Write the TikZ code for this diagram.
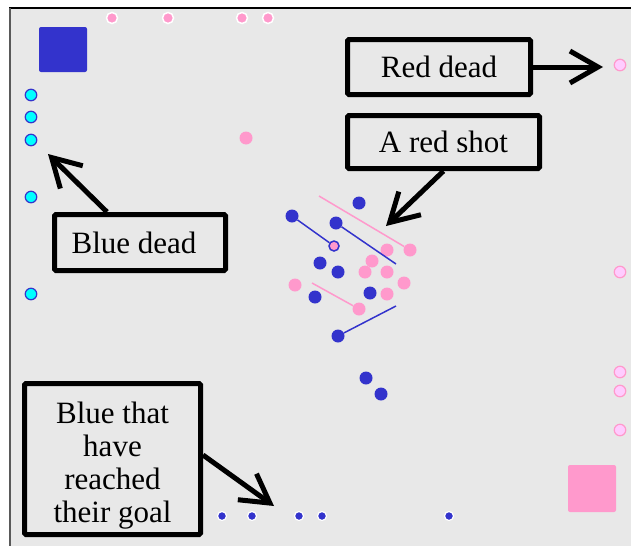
\documentclass[tikz,border=0pt]{standalone}
\usepackage{fontspec}
\setmainfont{Liberation Serif}
\usetikzlibrary{arrows.meta}
\definecolor{antblue}{HTML}{3333CC}
\definecolor{antpink}{HTML}{FF99CC}
\definecolor{deadblue}{HTML}{00FFFF}
\definecolor{deadpink}{HTML}{FFCCFF}
\definecolor{field}{HTML}{E8E8E8}

\begin{document}
\begin{tikzpicture}[x=1pt,y=-1pt,
  ant/.style={circle,inner sep=0pt,minimum size=13pt},
  blueant/.style={ant,fill=antblue},
  redant/.style={ant,fill=antpink},
  bluedead/.style={ant,minimum size=11.5pt,fill=deadblue,draw=antblue,line width=1.2pt},
  reddead/.style={ant,minimum size=11.5pt,fill=deadpink,draw=antpink,line width=1.2pt},
  bluehome/.style={ant,minimum size=9pt,fill=antblue,draw=white,line width=1.2pt},
  redhome/.style={ant,minimum size=11pt,fill=antpink,draw=white,line width=1.5pt},
  hitant/.style={ant,minimum size=10pt,fill=antpink,draw=antblue,line width=1.5pt},
  callout/.style={draw=black,line width=5pt,rounded corners=1.5pt,align=center,
    inner sep=0pt,font=\fontsize{31}{33}\selectfont},
  pointer/.style={line width=5pt,-{Straight Barb[length=28pt,width=32pt]}},
  blueshot/.style={antblue,line width=1.5pt},
  redshot/.style={antpink,line width=1.5pt}]
  \useasboundingbox (0,0) rectangle (631,546);

  % playing field
  \fill[field] (10,8) rectangle (631,546);
  \draw[black,line width=2pt] (9,8) -- (631,8);
  \draw[black!65,line width=1.2pt] (10,8) -- (10,546);

  % nests
  \fill[antblue,rounded corners=2pt] (39,27) rectangle (87,72);
  \fill[antpink,rounded corners=2pt] (568,465) rectangle (616,512);

  % ants at home and dead ants
  \foreach \x [count=\i] in {112,168,242,268}
    \node[redhome] (rh\i) at (\x,18) {};
  \foreach \x [count=\i] in {222,252,299,322,449}
    \node[bluehome] (bh\i) at (\x,516) {};
  \foreach \y [count=\i] in {95,117,140,197,294}
    \node[bluedead] (bd\i) at (31,\y) {};
  \foreach \y [count=\i] in {65,272,372,391,430}
    \node[reddead] (rd\i) at (620,\y) {};
  \node[redant] (r0) at (246,138) {};

  % the fight
  \node[blueant] (b1) at (292,216) {};
  \node[blueant] (b2) at (359,203) {};
  \node[blueant] (b3) at (336,223) {};
  \node[blueant] (b4) at (320,263) {};
  \node[blueant] (b5) at (338,272) {};
  \node[blueant] (b6) at (315,297) {};
  \node[blueant] (b7) at (370,293) {};
  \node[blueant] (b8) at (338,336) {};
  \node[blueant] (b9) at (366,378) {};
  \node[blueant] (b10) at (381,394) {};
  \node[hitant] (hit) at (334,246) {};
  \node[redant] (r1) at (410,250) {};
  \node[redant] (r2) at (387,250) {};
  \node[redant] (r3) at (372,261) {};
  \node[redant] (r4) at (365,272) {};
  \node[redant] (r5) at (387,272) {};
  \node[redant] (r6) at (404,283) {};
  \node[redant] (r7) at (295,285) {};
  \node[redant] (r8) at (387,294) {};
  \node[redant] (r9) at (359,309) {};

  % shots
  \coordinate (s2) at (396,264);
  \coordinate (s3) at (319,196);
  \coordinate (s4) at (312,283);
  \coordinate (s5) at (396,306);
  \draw[blueshot] (b1) -- (hit);
  \draw[blueshot] (b3) -- (s2);
  \draw[redshot] (r1) -- (s3);
  \draw[redshot] (r9) -- (s4);
  \draw[blueshot] (b8) -- (s5);

  % labels
  \node[callout,minimum width=183pt,minimum height=55pt] (reddead) at (439,67) {Red dead};
  \node[callout,minimum width=192pt,minimum height=53pt] (redshot) at (443.5,142) {A red shot};
  \node[callout,minimum width=171pt,minimum height=56pt] (bluedead) at (140,242.5) {Blue dead\hspace*{12pt}};
  \node[callout,minimum width=176pt,minimum height=151pt] (bluegoal) at (112.5,459)
    {\raisebox{-7pt}[\height][\depth]{\begin{tabular}{@{}c@{}}
      Blue that\\have\\reached\\their goal\end{tabular}}};

  \coordinate (t1) at (603,67);
  \coordinate (t2) at (386,226);
  \coordinate (t3) at (48,154);
  \coordinate (t4) at (274,506);
  \draw[pointer] (reddead.east) -- (t1);
  \draw[pointer] (redshot.south) -- (t2);
  \draw[pointer] ([xshift=-33pt]bluedead.north) -- (t3);
  \draw[pointer] ([yshift=4pt]bluegoal.east) -- (t4);
\end{tikzpicture}
\end{document}
